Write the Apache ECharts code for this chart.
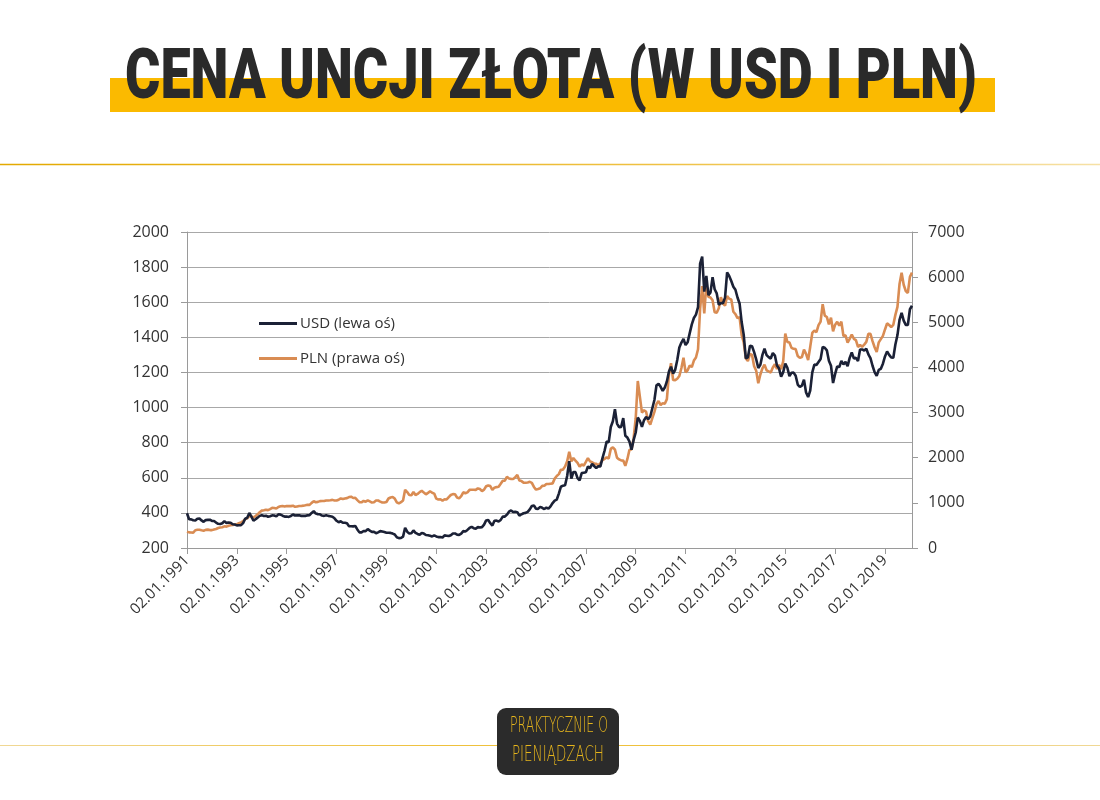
<!DOCTYPE html>
<html style="height: 100%">
<head>
<meta charset="utf-8">
<script src="https://cdn.jsdelivr.net/npm/echarts@6/dist/echarts.min.js"></script>
</head>
<body style="height: 100%; margin: 0; background: #fff">
<div id="main" style="width: 1100px; height: 800px"></div>
<script type="text/javascript">
// monthly gold price, Jan 1991 - Feb 2020
var years = [];
for (var y = 1991; y <= 2020; y++) years.push(y);

var usd = [
  // 1991
  398, 364, 363, 358, 357, 367, 368, 357, 349, 359, 360, 361,
  // 1992
  354, 354, 345, 338, 337, 341, 353, 343, 345, 344, 335, 334,
  // 1993
  329, 330, 330, 342, 367, 372, 400, 379, 355, 364, 373, 383,
  // 1994
  387, 382, 384, 378, 381, 386, 385, 380, 392, 390, 384, 379,
  // 1995
  379, 377, 382, 391, 385, 387, 386, 383, 383, 383, 386, 387,
  // 1996
  400, 410, 396, 393, 392, 385, 383, 387, 383, 381, 378, 369,
  // 1997
  355, 347, 352, 344, 344, 341, 324, 324, 323, 325, 306, 289,
  // 1998
  289, 297, 296, 308, 299, 292, 293, 284, 289, 296, 294, 291,
  // 1999
  287, 287, 286, 282, 277, 261, 256, 257, 265, 315, 293, 283,
  // 2000
  284, 300, 286, 280, 275, 285, 282, 274, 273, 270, 266, 272,
  // 2001
  266, 262, 263, 260, 272, 270, 268, 273, 283, 283, 276, 275,
  // 2002
  282, 296, 294, 303, 314, 321, 313, 310, 319, 317, 319, 333,
  // 2003
  357, 359, 341, 328, 355, 356, 351, 360, 379, 379, 390, 407,
  // 2004
  414, 405, 406, 404, 384, 392, 398, 400, 406, 420, 439, 442,
  // 2005
  424, 423, 434, 429, 422, 430, 424, 437, 456, 470, 476, 510,
  // 2006
  549, 555, 557, 610, 695, 596, 633, 632, 598, 585, 627, 629,
  // 2007
  631, 664, 655, 679, 667, 655, 665, 665, 712, 754, 806, 803,
  // 2008
  889, 922, 990, 909, 888, 890, 940, 839, 829, 806, 760, 816,
  // 2009
  858, 943, 924, 890, 928, 946, 934, 949, 996, 1043, 1127, 1135,
  // 2010
  1118, 1095, 1114, 1149, 1205, 1233, 1193, 1215, 1271, 1342, 1370, 1391,
  // 2011
  1356, 1372, 1424, 1474, 1510, 1529, 1572, 1820, 1860, 1660, 1750, 1640,
  // 2012
  1656, 1742, 1674, 1650, 1585, 1596, 1594, 1626, 1770, 1750, 1721, 1688,
  // 2013
  1671, 1627, 1593, 1487, 1414, 1280, 1286, 1352, 1349, 1316, 1275, 1225,
  // 2014
  1244, 1300, 1336, 1299, 1287, 1279, 1311, 1296, 1239, 1222, 1176, 1202,
  // 2015
  1251, 1227, 1179, 1198, 1199, 1181, 1131, 1117, 1125, 1159, 1086, 1060,
  // 2016
  1097, 1200, 1245, 1242, 1259, 1276, 1345, 1341, 1326, 1267, 1238, 1140,
  // 2017
  1192, 1234, 1231, 1266, 1246, 1260, 1236, 1283, 1314, 1280, 1283, 1265,
  // 2018
  1331, 1331, 1325, 1335, 1303, 1282, 1238, 1202, 1180, 1215, 1221, 1250,
  // 2019
  1291, 1320, 1300, 1285, 1284, 1359, 1413, 1500, 1540, 1495, 1471, 1470,
  // 2020
  1560, 1580
];

var pln = [
  // 1991
  360, 346, 345, 340, 393, 404, 405, 393, 384, 402, 407, 397,
  // 1992
  396, 411, 421, 443, 455, 460, 480, 473, 493, 506, 509, 521,
  // 1993
  526, 548, 568, 592, 639, 658, 710, 701, 675, 710, 746, 793,
  // 1994
  828, 837, 849, 839, 861, 888, 886, 874, 909, 924, 929, 917,
  // 1995
  929, 927, 928, 938, 912, 921, 930, 931, 938, 946, 957, 956,
  // 1996
  1000, 1035, 1014, 1022, 1039, 1040, 1042, 1053, 1053, 1059, 1066, 1052,
  // 1997
  1051, 1069, 1098, 1084, 1097, 1105, 1128, 1137, 1108, 1112, 1062, 1017,
  // 1998
  1012, 1042, 1024, 1056, 1032, 1007, 1014, 1051, 1052, 1027, 1008, 1007,
  // 1999
  1019, 1096, 1118, 1128, 1094, 1013, 986, 1015, 1052, 1290, 1239, 1174,
  // 2000
  1170, 1242, 1173, 1198, 1238, 1268, 1227, 1189, 1220, 1256, 1224, 1205,
  // 2001
  1093, 1074, 1081, 1048, 1080, 1075, 1126, 1174, 1194, 1189, 1118, 1100,
  // 2002
  1148, 1234, 1214, 1233, 1287, 1290, 1290, 1287, 1321, 1306, 1260, 1292,
  // 2003
  1367, 1386, 1371, 1286, 1335, 1349, 1358, 1422, 1489, 1493, 1576, 1538,
  // 2004
  1532, 1527, 1571, 1616, 1494, 1482, 1449, 1444, 1453, 1466, 1444, 1353,
  // 2005
  1293, 1307, 1324, 1377, 1380, 1419, 1416, 1425, 1432, 1537, 1595, 1637,
  // 2006
  1735, 1737, 1805, 1922, 2130, 1919, 1994, 1934, 1884, 1802, 1850, 1824,
  // 2007
  1906, 1992, 1919, 1901, 1868, 1867, 1829, 1882, 1944, 1975, 2007, 1983,
  // 2008
  2196, 2231, 2178, 2000, 1962, 1940, 1936, 1821, 1973, 2176, 2181, 2432,
  // 2009
  2874, 3700, 3354, 2999, 3053, 3018, 2811, 2733, 2878, 3014, 3189, 3257,
  // 2010
  3164, 3208, 3197, 3298, 3844, 4094, 3722, 3718, 3749, 3811, 3987, 4215,
  // 2011
  3892, 3938, 4044, 4009, 4153, 4220, 4402, 5300, 5800, 5195, 5843, 5567,
  // 2012
  5548, 5487, 5223, 5214, 5310, 5554, 5420, 5366, 5581, 5521, 5507, 5233,
  // 2013
  5180, 5093, 5114, 4714, 4553, 4200, 4141, 4299, 4276, 4027, 3927, 3650,
  // 2014
  3844, 3978, 4061, 3936, 3912, 3888, 3999, 4069, 3965, 4057, 3963, 4135,
  // 2015
  4750, 4564, 4551, 4433, 4412, 4405, 4253, 4211, 4230, 4393, 4301, 4165,
  // 2016
  4454, 4764, 4818, 4782, 4935, 5015, 5400, 5149, 5118, 4954, 5101, 4800,
  // 2017
  4947, 5010, 4924, 5013, 4697, 4712, 4548, 4632, 4730, 4634, 4606, 4453,
  // 2018
  4499, 4459, 4505, 4566, 4743, 4743, 4581, 4447, 4340, 4556, 4628, 4700,
  // 2019
  4841, 4976, 4940, 4896, 4943, 5164, 5341, 5850, 6100, 5831, 5693, 5650,
  // 2020
  6006, 6100
];

var yLeftTicks = [200, 2000, 200];   // min, max, interval
var yRightTicks = [0, 7000, 1000];

var months = [];
years.forEach(function (yr) {
  for (var m = 1; m <= 12; m++) {
    if (months.length >= usd.length) return;
    var mm = m < 10 ? '0' + m : '' + m;
    months.push((m === 1 ? '02' : '01') + '.' + mm + '.' + yr);
  }
});

var cv = document.createElement('canvas').getContext('2d');
function fitScale(text, font, width) {
  cv.font = font;
  return width / cv.measureText(text).width;
}

var titleText = 'CENA UNCJI ZŁOTA (W USD I PLN)';
var titleFont = '900 70px Roboto';
var titleScale = fitScale(titleText, titleFont, 852);

var logoFont = '300 20px "DejaVu Sans"';
var logo1 = 'PRAKTYCZNIE O', logo2 = 'PIENIĄDZACH';
var logoScale1 = fitScale(logo1, logoFont, 98);
var logoScale2 = fitScale(logo2, logoFont, 92);

var labelFont = 'Open Sans';
var noComma = function (v) { return String(v); };
var myChart = echarts.init(document.getElementById('main'));

myChart.setOption({
  backgroundColor: '#ffffff',
  animation: false,
  graphic: [
    {
      type: 'rect',
      shape: { x: 110, y: 78, width: 885, height: 34 },
      style: { fill: '#fbba00' }
    },
    {
      type: 'text',
      x: 551, y: 80,
      scaleX: titleScale, scaleY: 1,
      style: {
        text: titleText,
        font: titleFont,
        fill: '#2a2a2a',
        textAlign: 'center',
        textVerticalAlign: 'middle',
        shadowBlur: 6,
        shadowColor: 'rgba(0,0,0,0.35)',
        shadowOffsetY: 2
      },
      z: 10
    },
    {
      type: 'line',
      shape: { x1: 0, y1: 164.5, x2: 1100, y2: 164.5 },
      style: {
        lineWidth: 1.5,
        stroke: new echarts.graphic.LinearGradient(0, 0, 1, 0, [
          { offset: 0, color: '#e3a900' },
          { offset: 0.6, color: '#efc143' },
          { offset: 1, color: '#f6e1a6' }
        ])
      }
    },
    {
      type: 'line',
      shape: { x1: 0, y1: 745.5, x2: 1100, y2: 745.5 },
      style: {
        lineWidth: 1.2,
        stroke: new echarts.graphic.LinearGradient(0, 0, 1, 0, [
          { offset: 0, color: '#f0d895' },
          { offset: 0.4, color: '#efc13c' },
          { offset: 0.6, color: '#efc13c' },
          { offset: 1, color: '#f0d895' }
        ])
      }
    },
    {
      type: 'rect',
      shape: { x: 497, y: 708, width: 122, height: 67, r: 9 },
      style: { fill: '#2b2b2b' },
      z: 5
    },
    {
      type: 'text',
      x: 559, y: 727,
      scaleX: logoScale1, scaleY: 1.05,
      style: {
        text: logo1,
        font: logoFont,
        fill: '#e6b51c',
        textAlign: 'center',
        textVerticalAlign: 'middle'
      },
      z: 6
    },
    {
      type: 'text',
      x: 558, y: 756,
      scaleX: logoScale2, scaleY: 1.05,
      style: {
        text: logo2,
        font: logoFont,
        fill: '#e6b51c',
        textAlign: 'center',
        textVerticalAlign: 'middle'
      },
      z: 6
    }
  ],
  legend: {
    orient: 'vertical',
    left: 254,
    top: 311,
    itemWidth: 38,
    itemHeight: 3,
    itemGap: 20,
    icon: 'rect',
    textStyle: { fontFamily: labelFont, fontSize: 15, color: '#333', padding: [0, 0, 0, -2] },
    data: ['USD (lewa oś)', 'PLN (prawa oś)']
  },
  grid: { left: 187, right: 188, top: 232, bottom: 252 },
  xAxis: {
    type: 'category',
    data: months,
    boundaryGap: false,
    axisLine: { lineStyle: { color: '#9a9a9a', width: 1 } },
    axisTick: {
      alignWithLabel: true,
      interval: function (i) { return i % 24 === 0; },
      length: 6,
      lineStyle: { color: '#9a9a9a' }
    },
    axisLabel: {
      interval: function (i) { return i % 24 === 0; },
      rotate: 45,
      margin: 10,
      fontFamily: labelFont,
      fontSize: 15,
      color: '#333'
    },
    splitLine: { show: false }
  },
  yAxis: [
    {
      type: 'value',
      min: yLeftTicks[0], max: yLeftTicks[1], interval: yLeftTicks[2],
      axisLine: { show: true, lineStyle: { color: '#9a9a9a' } },
      axisTick: { show: true, length: 6, lineStyle: { color: '#9a9a9a' } },
      axisLabel: { fontFamily: labelFont, fontSize: 16, color: '#333', margin: 18, formatter: noComma },
      splitLine: { lineStyle: { color: '#a8a8a8', width: 1 } }
    },
    {
      type: 'value',
      min: yRightTicks[0], max: yRightTicks[1], interval: yRightTicks[2],
      axisLine: { show: true, lineStyle: { color: '#9a9a9a' } },
      axisTick: { show: true, length: 6, lineStyle: { color: '#9a9a9a' } },
      axisLabel: { fontFamily: labelFont, fontSize: 16, color: '#333', margin: 16, formatter: noComma },
      splitLine: { show: false }
    }
  ],
  series: [
    {
      name: 'PLN (prawa oś)',
      type: 'line',
      yAxisIndex: 1,
      data: pln,
      showSymbol: false,
      color: '#d98c53',
      lineStyle: { width: 2.6, color: '#d98c53' },
      z: 2
    },
    {
      name: 'USD (lewa oś)',
      type: 'line',
      yAxisIndex: 0,
      data: usd,
      showSymbol: false,
      color: '#1b2136',
      lineStyle: { width: 2.6, color: '#1b2136' },
      z: 3
    }
  ]
});
</script>
</body>
</html>
